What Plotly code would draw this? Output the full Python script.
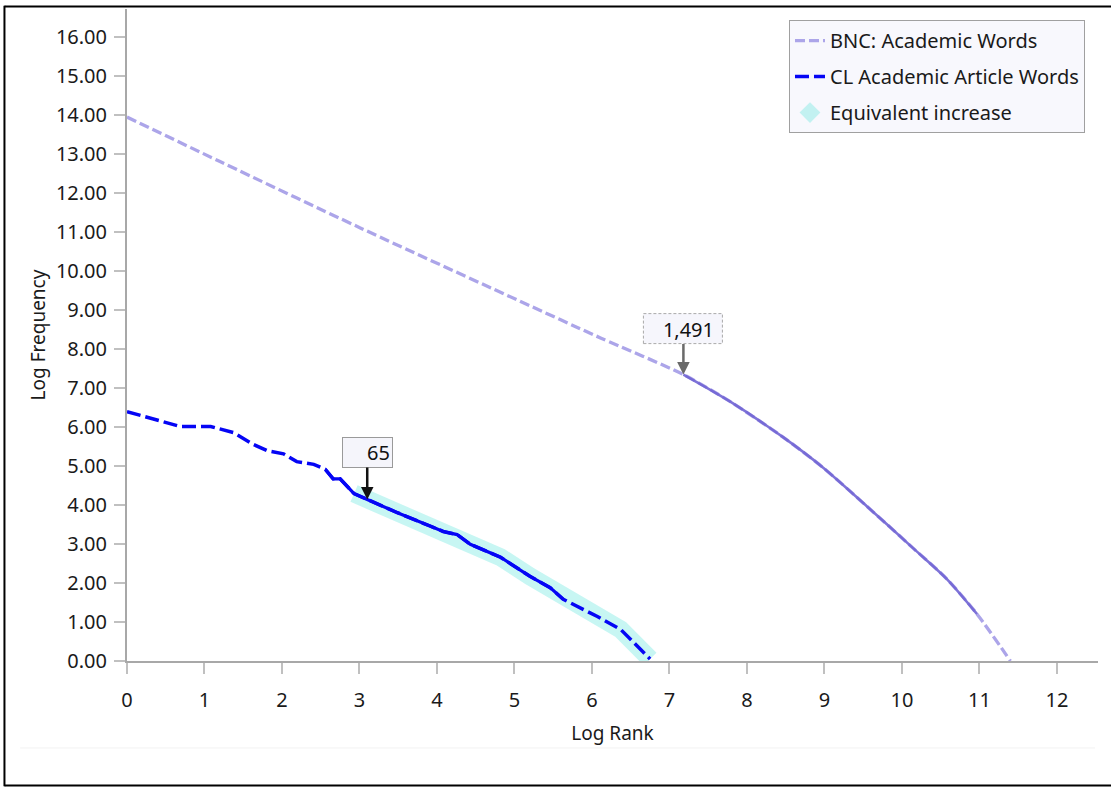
import plotly.graph_objects as go

# ---- data ----
bnc_x = [0, 1.20, 3.01, 5.59, 6.11, 7.18, 7.79, 8.47, 8.98, 9.55, 10.14, 10.58, 10.97, 11.40]
bnc_y = [13.94, 12.80, 11.10, 8.75, 8.28, 7.34, 6.64, 5.73, 4.96, 3.96, 2.90, 2.10, 1.20, 0.0]
bnc_solid_from, bnc_solid_to = 5, 13   # observed (solid) section indices

cl_x = [0, 0.69, 1.08, 1.38, 1.63, 1.81, 2.02, 2.19, 2.41, 2.56, 2.66, 2.75, 2.93, 3.10,
        3.49, 3.91, 4.08, 4.26, 4.43, 4.82, 5.20, 5.46, 5.63, 6.07, 6.37, 6.75]
cl_y = [6.39, 6.01, 6.01, 5.85, 5.55, 5.39, 5.31, 5.11, 5.04, 4.91, 4.67, 4.67, 4.29, 4.14,
        3.80, 3.46, 3.32, 3.24, 2.99, 2.66, 2.17, 1.88, 1.58, 1.14, 0.81, 0.05]
cl_solid_from, cl_solid_to = 9, 23
band_from = 12  # "Equivalent increase" band starts here

label_bnc = "BNC: Academic Words"
label_cl = "CL Academic Article Words"
label_band = "Equivalent increase"

ann_bnc = {"x": 7.18, "y": 7.34, "text": "1,491"}
ann_cl = {"x": 3.10, "y": 4.14, "text": "65"}

x_ticks = list(range(0, 13))
y_ticks = list(range(0, 17))

FONT = "Noto Sans"
FS = 20
BNC_LIGHT = "#aca5e9"
BNC_DARK = "#7164d4"
CL_BLUE = "#0505f5"
BAND = "rgba(70,225,215,0.30)"

fig = go.Figure()

# band
fig.add_trace(go.Scatter(x=cl_x[band_from:], y=cl_y[band_from:], mode="lines",
                         line=dict(color=BAND, width=18), showlegend=False, hoverinfo="skip"))
# BNC
fig.add_trace(go.Scatter(x=bnc_x, y=bnc_y, mode="lines", name=label_bnc,
                         line=dict(color=BNC_LIGHT, width=3.3, dash="10px,4px", shape="spline", smoothing=0.8),
                         legendgroup="a"))
fig.add_trace(go.Scatter(x=bnc_x[bnc_solid_from:bnc_solid_to], y=bnc_y[bnc_solid_from:bnc_solid_to],
                         mode="lines", line=dict(color=BNC_DARK, width=2.6, shape="spline", smoothing=0.8),
                         opacity=0.9, showlegend=False, hoverinfo="skip"))
# CL
fig.add_trace(go.Scatter(x=cl_x, y=cl_y, mode="lines", name=label_cl,
                         line=dict(color=CL_BLUE, width=3.5, dash="14px,5px"),
                         legendgroup="b"))
fig.add_trace(go.Scatter(x=cl_x[cl_solid_from:cl_solid_to], y=cl_y[cl_solid_from:cl_solid_to],
                         mode="lines", line=dict(color=CL_BLUE, width=3.2),
                         showlegend=False, hoverinfo="skip"))
# legend entry for band
fig.add_trace(go.Scatter(x=[None], y=[None], mode="markers", name=label_band,
                         marker=dict(symbol="diamond", size=26, color="rgba(70,225,215,0.30)"),
                         legendgroup="c"))

# annotation 65
fig.add_annotation(x=ann_cl["x"], y=ann_cl["y"], text=ann_cl["text"], showarrow=True,
                   ax=0, ay=-47, arrowhead=2, arrowsize=1, arrowwidth=2.5, arrowcolor="#111",
                   bgcolor="#f5f5fb", bordercolor="#9a9a9a", borderwidth=1, borderpad=2,
                   width=45, height=25, align="right",
                   font=dict(family=FONT, size=FS, color="#111"))
# annotation 1,491 (dashed box as a shape)
fig.add_shape(type="rect", xref="x", yref="y", xsizemode="pixel", ysizemode="pixel",
              xanchor=ann_bnc["x"], yanchor=ann_bnc["y"], x0=-40, x1=39, y0=31, y1=61,
              line=dict(color="#aaaaaa", width=1, dash="3px,2px"), fillcolor="#f6f6fc", layer="above")
fig.add_annotation(x=ann_bnc["x"], y=ann_bnc["y"], text=ann_bnc["text"], showarrow=True,
                   ax=0, ay=-46, arrowhead=2, arrowsize=1, arrowwidth=2.5, arrowcolor="#6a6a6a",
                   borderpad=3, width=62, height=24, align="right",
                   font=dict(family=FONT, size=FS, color="#111"))

# frame lines
fig.add_shape(type="line", xref="paper", yref="paper", x0=-0.1262, x1=-0.1262, y0=-0.192, y1=1.005,
              line=dict(color="black", width=2))
fig.add_shape(type="line", xref="paper", yref="paper", x0=-0.1262, x1=1.02, y0=1.0038, y1=1.0038,
              line=dict(color="black", width=2))
fig.add_shape(type="line", xref="paper", yref="paper", x0=-0.1262, x1=1.02, y0=-0.1909, y1=-0.1909,
              line=dict(color="black", width=2))
fig.add_shape(type="line", xref="paper", yref="paper", x0=-0.110, x1=0.997, y0=-0.1334, y1=-0.1334,
              line=dict(color="#f2f2f2", width=1))

axis_common = dict(showline=True, linecolor="#a8a8a8", linewidth=2, ticks="outside",
                   tickcolor="#c0c0c0", ticklen=11, tickwidth=1.5, showgrid=False, zeroline=False,
                   tickfont=dict(family=FONT, size=FS, color="#1a1a1a"))

fig.update_layout(
    width=1111, height=787,
    margin=dict(l=127, r=13, t=9, b=126),
    paper_bgcolor="white", plot_bgcolor="white",
    font=dict(family=FONT, size=FS, color="#1a1a1a"),
    xaxis=dict(range=[0, 12.53], tickvals=x_ticks, ticktext=[str(v) for v in x_ticks],
               ticklabelstandoff=9,
               title=dict(text="Log Rank", standoff=15, font=dict(family=FONT, size=FS - 1)),
               **axis_common),
    yaxis=dict(range=[0, 16.71], tickvals=y_ticks, ticktext=[f"{v:.2f}" for v in y_ticks],
               ticklabelstandoff=3,
               title=dict(text="Log Frequency", standoff=5, font=dict(family=FONT, size=FS - 1)),
               **axis_common),
    legend=dict(x=0.9866, y=0.983, xanchor="right", yanchor="top", bgcolor="#f8f8fd",
                bordercolor="#a0a0a0", borderwidth=1, traceorder="grouped", tracegroupgap=7,
                font=dict(family=FONT, size=FS, color="#1a1a1a")),
    showlegend=True,
)

fig.write_html("out.html")
